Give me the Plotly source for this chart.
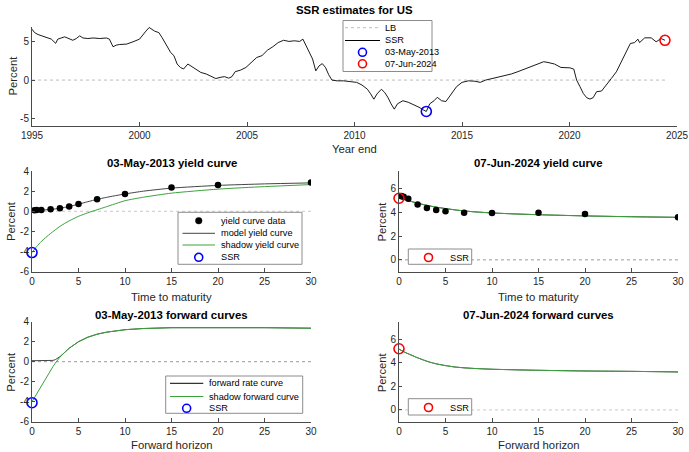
import plotly.graph_objects as go

W, H = 689, 452

# ---------------- data ----------------
ssr_years = [1995.0, 1995.12, 1995.28, 1995.43, 1995.67, 1995.9, 1996.1, 1996.2, 1996.52, 1996.75,
             1996.9, 1997.06, 1997.22, 1997.37, 1997.6, 1997.84, 1998.15, 1998.46, 1998.6, 1998.77,
             1998.92, 1999.08, 1999.4, 1999.7, 2000.0, 2000.3, 2000.45, 2000.7, 2000.9, 2001.05,
             2001.25, 2001.45, 2001.6, 2001.75, 2001.9, 2002.05, 2002.25, 2002.45, 2002.65, 2002.85,
             2003.1, 2003.35, 2003.55, 2003.75, 2003.95, 2004.15, 2004.3, 2004.45, 2004.7, 2004.95,
             2005.2, 2005.45, 2005.7, 2005.95, 2006.2, 2006.45, 2006.7, 2006.95, 2007.2, 2007.45,
             2007.6, 2007.75, 2007.9, 2008.05, 2008.2, 2008.35, 2008.5, 2008.65, 2008.8, 2008.95,
             2009.2, 2009.5, 2009.8, 2010.1, 2010.35, 2010.6, 2010.75, 2010.9, 2011.05, 2011.25,
             2011.4, 2011.55, 2011.7, 2011.85, 2012.0, 2012.25, 2012.5, 2012.75, 2013.0, 2013.2,
             2013.34, 2013.5, 2013.7, 2013.85, 2014.05, 2014.25, 2014.5, 2014.75, 2015.0, 2015.3,
             2015.6, 2015.85, 2016.1, 2016.4, 2016.7, 2017.0, 2017.3, 2017.6, 2017.9, 2018.2,
             2018.5, 2018.8, 2019.0, 2019.3, 2019.6, 2020.02, 2020.2, 2020.33, 2020.49, 2020.64,
             2020.8, 2020.95, 2021.1, 2021.26, 2021.49, 2021.72, 2021.95, 2022.18, 2022.41, 2022.57,
             2022.72, 2022.83, 2023.03, 2023.18, 2023.26, 2023.5, 2023.8, 2024.03, 2024.26, 2024.44]
ssr_values = [6.65, 6.2, 5.95, 5.8, 5.5, 5.35, 4.8, 5.35, 5.65, 5.43,
              5.2, 5.43, 5.78, 5.5, 5.43, 5.5, 5.43, 5.5, 5.35, 4.35,
              4.57, 4.65, 4.7, 5.0, 5.35, 6.4, 6.87, 6.4, 6.2, 5.55,
              4.5, 3.6, 3.2, 2.1, 1.65, 1.45, 2.1, 1.75, 1.45, 1.0,
              0.8, 0.45, 0.2, 0.35, 0.45, 0.25, 0.45, 1.1, 1.3, 1.65,
              2.3, 2.95, 3.2, 3.9, 4.35, 4.9, 5.2, 5.05, 5.13, 5.05,
              5.35, 4.5, 3.8, 2.75, 1.2, 1.85, 2.15, 1.65, 0.7, 0.0,
              -0.1, -0.1, -0.2, -0.3, -0.65, -1.2, -1.8, -2.5, -1.8, -1.2,
              -1.6, -2.25, -3.1, -3.8, -3.1, -2.7, -2.9, -3.2, -3.55, -3.9,
              -4.1, -3.1, -2.7, -2.25, -2.7, -2.8, -1.8, -0.85, -0.3, -0.1,
              -0.15, -0.3, 0.0, 0.2, 0.35, 0.55, 0.8, 1.1, 1.45, 1.75,
              2.1, 2.4, 2.3, 2.1, 1.65, 1.6, 1.43, 0.0, -0.87, -1.74,
              -2.3, -2.48, -2.3, -1.52, -1.43, -0.65, 0.22, 1.08, 2.39, 3.26,
              4.13, 4.78, 4.9, 5.35, 4.9, 5.52, 5.52, 5.0, 5.43, 5.2]
lb_years = [1995.0, 2024.44]
lb_values = [0.0, 0.0]

sel_labels = ["03-May-2013", "07-Jun-2024"]
sel_years = [2013.34, 2024.44]
sel_ssr = [-4.1, 5.2]

year_ticks = [1995, 2000, 2005, 2010, 2015, 2020, 2025]
year_ticktext = ["1995", "2000", "2005", "2010", "2015", "2020", "2025"]
top_yticks = [-5, 0, 5]
top_yticktext = ["-5", "0", "5"]
left_yticks = [-6, -4, -2, 0, 2, 4]
left_yticktext = ["-6", "-4", "-2", "0", "2", "4"]
right_yticks = [0, 2, 4, 6]
right_yticktext = ["0", "2", "4", "6"]
mat_ticks = [0, 5, 10, 15, 20, 25, 30]
mat_ticktext = ["0", "5", "10", "15", "20", "25", "30"]

yc_mat = [0.25, 0.5, 1, 2, 3, 4, 5, 7, 10, 15, 20, 30]
yc_2013 = [0.1, 0.12, 0.13, 0.2, 0.3, 0.48, 0.72, 1.2, 1.72, 2.35, 2.6, 2.85]
yc_2024 = [5.38, 5.32, 5.15, 4.67, 4.38, 4.2, 4.11, 3.98, 3.96, 3.97, 3.88, 3.6]

curve_mat = [0, 0.5, 1, 2, 3, 4, 5, 6, 7, 8, 10, 12, 15, 20, 25, 30]
model_2013 = [0.1, 0.11, 0.12, 0.18, 0.3, 0.48, 0.7, 0.95, 1.18, 1.38, 1.72, 2.0, 2.3, 2.57, 2.72, 2.82]
shadow_2013 = [-4.1, -3.5, -3.0, -2.2, -1.5, -0.95, -0.5, -0.15, 0.15, 0.45, 1.05, 1.4, 1.8, 2.2, 2.45, 2.65]
model_2024 = [5.2, 5.1, 5.0, 4.78, 4.6, 4.45, 4.33, 4.22, 4.13, 4.06, 3.96, 3.89, 3.81, 3.71, 3.64, 3.59]
shadow_2024 = [5.2, 5.1, 5.0, 4.78, 4.6, 4.45, 4.33, 4.22, 4.13, 4.06, 3.96, 3.89, 3.81, 3.71, 3.64, 3.59]

fwd_h = [0, 0.5, 1, 1.5, 2, 2.25, 2.5, 2.75, 3, 3.5, 4, 5, 6, 7, 8, 10, 12, 15, 20, 25, 30]
fwd_2013 = [0.1, 0.1, 0.1, 0.1, 0.11, 0.13, 0.2, 0.32, 0.5, 0.92, 1.35, 2.0, 2.45, 2.75, 2.95, 3.2, 3.32, 3.4, 3.42, 3.4, 3.35]
sfwd_2013 = [-4.0, -3.2, -2.45, -1.65, -0.85, -0.5, -0.15, 0.15, 0.45, 0.92, 1.35, 2.0, 2.45, 2.75, 2.95, 3.2, 3.32, 3.4, 3.42, 3.4, 3.35]
fwd_2024 = [5.17, 4.95, 4.77, 4.6, 4.43, 4.36, 4.28, 4.21, 4.14, 4.02, 3.92, 3.77, 3.65, 3.58, 3.53, 3.46, 3.42, 3.37, 3.31, 3.28, 3.23]
sfwd_2024 = [5.17, 4.95, 4.77, 4.6, 4.43, 4.36, 4.28, 4.21, 4.14, 4.02, 3.92, 3.77, 3.65, 3.58, 3.53, 3.46, 3.42, 3.37, 3.31, 3.28, 3.23]

# ---------------- styles ----------------
FONT = "Liberation Sans, Arial, Helvetica, sans-serif"
AX = "#4a4a4a"
TXT = "#262626"
GREEN = "#3aa23a"
MODEL = "#444444"
LBC = "#9a9a9a"
BLUE = "#0000ff"
RED = "#ff0000"


def px(x):
    return x / W


def py(y):
    return 1 - y / H


fig = go.Figure()

# top panel
fig.add_trace(go.Scatter(x=lb_years, y=lb_values, mode="lines", line=dict(color="#bdbdbd", width=1, dash="dot"),
                         xaxis="x", yaxis="y", showlegend=False))
fig.add_trace(go.Scatter(x=ssr_years, y=ssr_values, mode="lines", line=dict(color="black", width=0.9),
                         xaxis="x", yaxis="y", showlegend=False))
fig.add_trace(go.Scatter(x=[sel_years[0]], y=[sel_ssr[0]], mode="markers",
                         marker=dict(symbol="circle-open", size=10, color=BLUE, line=dict(width=1.6, color=BLUE)),
                         xaxis="x", yaxis="y", showlegend=False))
fig.add_trace(go.Scatter(x=[sel_years[1]], y=[sel_ssr[1]], mode="markers",
                         marker=dict(symbol="circle-open", size=10, color=RED, line=dict(width=1.6, color=RED)),
                         xaxis="x", yaxis="y", showlegend=False))


def curve_panel(xa, ya, zero_color, model_x, model_y, shadow_x, shadow_y, ssr, col, dots=None, shape="spline"):
    fig.add_trace(go.Scatter(x=[0, 30], y=[0, 0], mode="lines", line=dict(color=zero_color, width=1, dash="dot"),
                             xaxis=xa, yaxis=ya, showlegend=False))
    ln = dict(shape=shape)
    if shape == "spline":
        ln["smoothing"] = 0.6
    fig.add_trace(go.Scatter(x=model_x, y=model_y, mode="lines", line=dict(color=MODEL, width=1, **ln),
                             xaxis=xa, yaxis=ya, showlegend=False))
    fig.add_trace(go.Scatter(x=shadow_x, y=shadow_y, mode="lines", line=dict(color=GREEN, width=1, **ln),
                             xaxis=xa, yaxis=ya, showlegend=False))
    if dots is not None:
        fig.add_trace(go.Scatter(x=dots[0], y=dots[1], mode="markers", marker=dict(size=6.5, color="black"),
                                 xaxis=xa, yaxis=ya, showlegend=False))
    fig.add_trace(go.Scatter(x=[0], y=[ssr], mode="markers", cliponaxis=False,
                             marker=dict(symbol="circle-open", size=10, color=col, line=dict(width=1.6, color=col)),
                             xaxis=xa, yaxis=ya, showlegend=False))


curve_panel("x2", "y2", "#c8c8c8", curve_mat, model_2013, curve_mat, shadow_2013, sel_ssr[0], BLUE, (yc_mat, yc_2013))
curve_panel("x3", "y3", LBC, curve_mat, model_2024, curve_mat, shadow_2024, sel_ssr[1], RED, (yc_mat, yc_2024))
curve_panel("x4", "y4", LBC, fwd_h, fwd_2013, fwd_h, sfwd_2013, sel_ssr[0], BLUE, shape="linear")
curve_panel("x5", "y5", "#c8c8c8", fwd_h, fwd_2024, fwd_h, sfwd_2024, sel_ssr[1], RED)


def xaxis(x0, x1, rng, tv, tt, anchor):
    return dict(domain=[px(x0), px(x1)], range=rng, tickvals=tv, ticktext=tt, anchor=anchor, automargin=False,
                showline=True, linecolor=AX, linewidth=1, ticks="inside", ticklen=4, tickcolor=AX,
                showgrid=False, zeroline=False, tickfont=dict(family=FONT, size=10, color=TXT))


def yaxis(y0, y1, rng, tv, tt, anchor):
    return dict(domain=[py(y1), py(y0)], range=rng, tickvals=tv, ticktext=tt, anchor=anchor, automargin=False,
                showline=True, linecolor=AX, linewidth=1, ticks="inside", ticklen=3, tickcolor=AX,
                showgrid=False, zeroline=False, tickfont=dict(family=FONT, size=10, color=TXT))


L0, L1, R0, R1 = 32, 311, 399, 678

xa_top = xaxis(32, 677, [1995, 2025], year_ticks, year_ticktext, "y")

layout = dict(
    width=W, height=H, margin=dict(l=0, r=0, t=0, b=0, pad=0), autosize=False,
    paper_bgcolor="white", plot_bgcolor="white", showlegend=False,
    font=dict(family=FONT, color=TXT),
    xaxis=xa_top,
    yaxis=yaxis(26.5, 126, [-6, 7], top_yticks, top_yticktext, "x"),
    xaxis2=xaxis(L0, L1, [0, 30], mat_ticks, mat_ticktext, "y2"),
    yaxis2=yaxis(171, 271.7, [-6, 4], left_yticks, left_yticktext, "x2"),
    xaxis3=xaxis(R0, R1, [0, 30], mat_ticks, mat_ticktext, "y3"),
    yaxis3=yaxis(171, 271.7, [-1, 7.5], right_yticks, right_yticktext, "x3"),
    xaxis4=xaxis(L0, L1, [0, 30], mat_ticks, mat_ticktext, "y4"),
    yaxis4=yaxis(321.7, 421.7, [-6, 4], left_yticks, left_yticktext, "x4"),
    xaxis5=xaxis(R0, R1, [0, 30], mat_ticks, mat_ticktext, "y5"),
    yaxis5=yaxis(321.7, 421.7, [-1, 7.5], right_yticks, right_yticktext, "x5"),
)
fig.update_layout(**layout)

annotations = []
shapes = []


def text(x, y, s, size=11.3, bold=False, angle=0, anchor="center", color=TXT):
    annotations.append(dict(xref="paper", yref="paper", x=px(x), y=py(y), text=("<b>%s</b>" % s) if bold else s,
                            showarrow=False, xanchor=anchor, yanchor="middle", textangle=angle,
                            font=dict(family=FONT, size=size, color="black" if bold else color)))


# titles
text(354, 10, "SSR estimates for US", 11.4, True)
text(171.5, 163, "03-May-2013 yield curve", 11.4, True)
text(538.5, 163, "07-Jun-2024 yield curve", 11.4, True)
text(171.5, 314.5, "03-May-2013 forward curves", 11.4, True)
text(538.5, 314.5, "07-Jun-2024 forward curves", 11.4, True)
# axis labels
text(354, 149.5, "Year end")
text(171.5, 296.5, "Time to maturity")
text(538.5, 296.5, "Time to maturity")
text(171.5, 445, "Forward horizon")
text(538.5, 445, "Forward horizon")
text(12.5, 76, "Percent", angle=-90)
text(11, 221, "Percent", angle=-90)
text(381.5, 221, "Percent", angle=-90)
text(11, 371.7, "Percent", angle=-90)
text(381.5, 371.7, "Percent", angle=-90)


# manual MATLAB-style legends
def legend(x0, y0, x1, y1, entries, lx0, lx1, tx, fsize=9.2):
    shapes.append(dict(type="rect", xref="paper", yref="paper", x0=px(x0), x1=px(x1), y0=py(y1), y1=py(y0),
                       line=dict(color="#8c8c8c", width=1), fillcolor="white", layer="above"))
    for kind, yy, style, label in entries:
        if kind == "line":
            shapes.append(dict(type="line", xref="paper", yref="paper", x0=px(lx0), x1=px(lx1), y0=py(yy), y1=py(yy),
                               line=style, layer="above"))
        else:
            cx = (lx0 + lx1) / 2
            r = style.get("r", 4)
            shapes.append(dict(type="circle", xref="paper", yref="paper", x0=px(cx - r), x1=px(cx + r),
                               y0=py(yy + r), y1=py(yy - r), line=dict(color=style["color"], width=style.get("w", 1.6)),
                               fillcolor=style.get("fill", "rgba(0,0,0,0)"), layer="above"))
        text(tx, yy, label, fsize, anchor="left", color="black")


legend(343, 20.5, 432, 71.5, [
    ("line", 27.7, dict(color="#bdbdbd", width=1, dash="dot"), "LB"),
    ("line", 40.5, dict(color="black", width=1), "SSR"),
    ("marker", 52.3, dict(color=BLUE), sel_labels[0]),
    ("marker", 63.8, dict(color=RED), sel_labels[1]),
], 345, 380, 382.5)

legend(178, 212.3, 302, 264.3, [
    ("marker", 220.7, dict(color="black", fill="black", r=3.3, w=0.5), "yield curve data"),
    ("line", 233.3, dict(color=MODEL, width=1), "model yield curve"),
    ("line", 245, dict(color=GREEN, width=1), "shadow yield curve"),
    ("marker", 257.3, dict(color=BLUE), "SSR"),
], 182.5, 215, 219)

legend(408.3, 249, 471.7, 264.3, [
    ("marker", 257.5, dict(color=RED), "SSR"),
], 411, 446, 448.3)

legend(165.7, 376, 302.7, 413.3, [
    ("line", 383.3, dict(color="black", width=1), "forward rate curve"),
    ("line", 396.5, dict(color=GREEN, width=1), "shadow forward curve"),
    ("marker", 408.3, dict(color=BLUE), "SSR"),
], 170, 203.3, 206.7)

legend(408.3, 398.7, 471.7, 415, [
    ("marker", 407.5, dict(color=RED), "SSR"),
], 411, 446, 448.3)

fig.update_layout(annotations=annotations, shapes=shapes)
fig.write_html("out.html", config={"displayModeBar": False},
               post_script="document.body.style.margin='0px';")
